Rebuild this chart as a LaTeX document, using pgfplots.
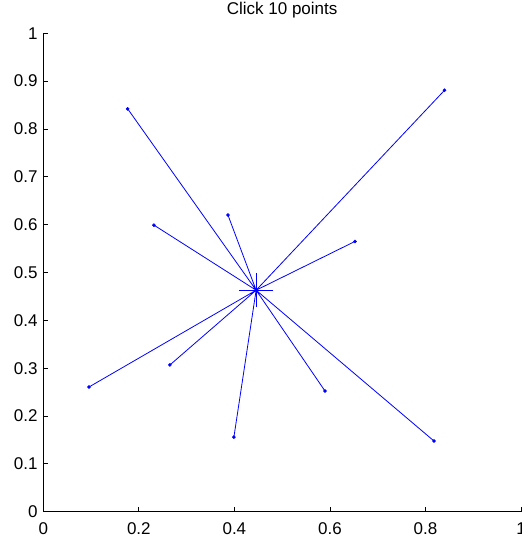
\documentclass[border=0pt]{standalone}
\usepackage{fontspec}
\setmainfont{Liberation Sans}
\usepackage{pgfplots}
\pgfplotsset{compat=1.18}
\begin{document}
\begin{tikzpicture}[font=\fontsize{17bp}{19bp}\selectfont]
\useasboundingbox (0,0) rectangle (522bp,538bp);
\begin{axis}[
  at={(43.3bp,26.3bp)}, anchor=south west,
  scale only axis, width=477.7bp, height=478.4bp,
  xmin=0, xmax=1, ymin=0, ymax=1,
  axis lines=left,
  axis line style={-, line width=0.8bp, black},
  tick align=inside, major tick length=5bp,
  tick style={line width=0.8bp, black},
  xtick={0,0.2,0.4,0.6,0.8,1},
  xticklabels={0,0.2,0.4,0.6,0.8,1},
  ytick={0,0.1,0.2,0.3,0.4,0.5,0.6,0.7,0.8,0.9,1},
  yticklabels={0,0.1,0.2,0.3,0.4,0.5,0.6,0.7,0.8,0.9,1},
  xticklabel style={inner sep=0bp, anchor=north, yshift=-11bp},
  yticklabel style={inner sep=0bp, anchor=east, xshift=-5.6bp},
  title={Click 10 points},
  title style={at={(0.5,1)}, anchor=base, yshift=13.3bp, inner sep=0pt},
  clip=false,
]
\addplot[blue, line width=0.8bp, no marks] table {
x y
0.4455 0.463
0.1767 0.842

0.4455 0.463
0.2317 0.599

0.4455 0.463
0.3866 0.620

0.4455 0.463
0.6525 0.565

0.4455 0.463
0.8400 0.881

0.4455 0.463
0.0957 0.2607

0.4455 0.463
0.2650 0.3067

0.4455 0.463
0.3990 0.156

0.4455 0.463
0.5897 0.2523

0.4455 0.463
0.8178 0.1478
};
\addplot[blue, only marks, mark=*, mark size=1.6bp] coordinates {
(0.1767,0.842) (0.2317,0.599) (0.3866,0.620) (0.6525,0.565) (0.8400,0.881)
(0.0957,0.2607) (0.2650,0.3067) (0.3990,0.156) (0.5897,0.2523) (0.8178,0.1478)
};
\addplot[blue, only marks, mark=+, mark size=17bp, mark options={line width=0.8bp}] coordinates {(0.4455,0.463)};
\end{axis}
\end{tikzpicture}
\end{document}
